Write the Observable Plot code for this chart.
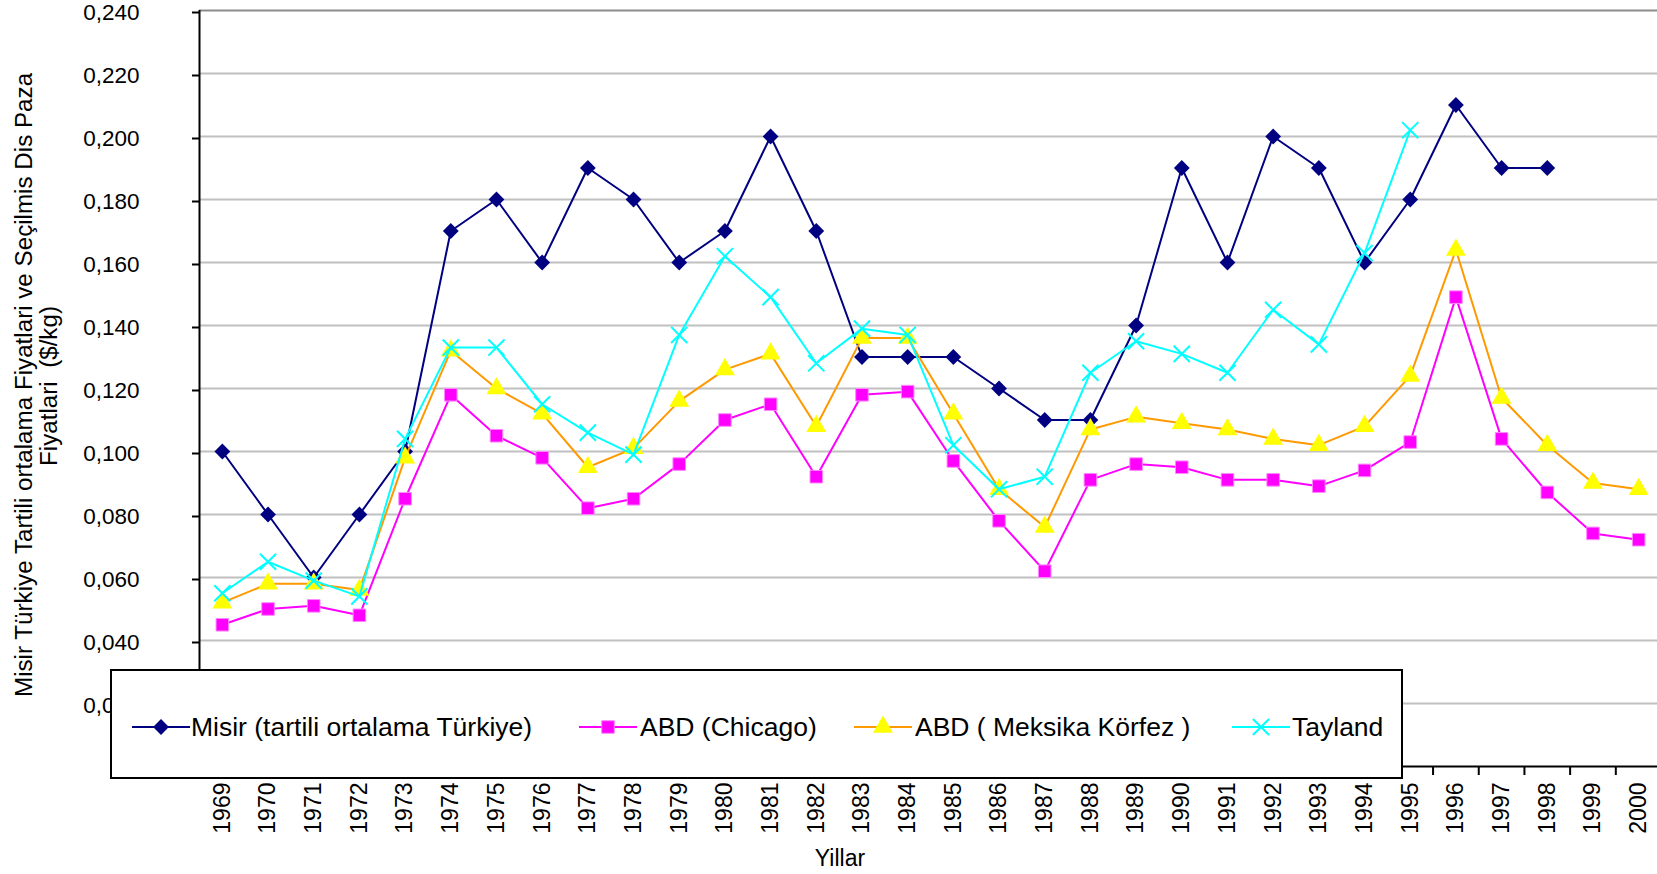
<!DOCTYPE html>
<html>
<head>
<meta charset="utf-8">
<script src="https://cdn.jsdelivr.net/npm/d3@7"></script>
<script src="https://cdn.jsdelivr.net/npm/@observablehq/plot@0.6"></script>
<style>
  body { margin: 0; background: #fff; font-family: "Liberation Sans", Arial, sans-serif; }
  #wrap { position: relative; width: 1657px; height: 874px; overflow: hidden; background: #fff; }
  #wrap > svg { position: absolute; left: 0; top: 0; }
  .legend { position: absolute; box-sizing: border-box; border: 2px solid #000; background: #fff; }
  .legend .item-text { position: absolute; font-size: 26.5px; line-height: 30px; white-space: pre; color: #000; }
  .legend svg { position: absolute; }
</style>
</head>
<body>
<div id="wrap"></div>
<script>
// ---------- data ----------
const years = [1969, 1970, 1971, 1972, 1973, 1974, 1975, 1976, 1977, 1978, 1979, 1980, 1981, 1982, 1983, 1984,
               1985, 1986, 1987, 1988, 1989, 1990, 1991, 1992, 1993, 1994, 1995, 1996, 1997, 1998, 1999, 2000];
const misir   = [0.100, 0.080, 0.060, 0.080, 0.100, 0.170, 0.180, 0.160, 0.190, 0.180, 0.160, 0.170, 0.200, 0.170, 0.130, 0.130,
                 0.130, 0.120, 0.110, 0.110, 0.140, 0.190, 0.160, 0.200, 0.190, 0.160, 0.180, 0.210, 0.190, 0.190, null, null];
const chicago = [0.045, 0.050, 0.051, 0.048, 0.085, 0.118, 0.105, 0.098, 0.082, 0.085, 0.096, 0.110, 0.115, 0.092, 0.118, 0.119,
                 0.097, 0.078, 0.062, 0.091, 0.096, 0.095, 0.091, 0.091, 0.089, 0.094, 0.103, 0.149, 0.104, 0.087, 0.074, 0.072];
const meksika = [0.052, 0.058, 0.058, 0.056, 0.098, 0.132, 0.120, 0.112, 0.095, 0.101, 0.116, 0.126, 0.131, 0.108, 0.136, 0.136,
                 0.112, 0.088, 0.076, 0.107, 0.111, 0.109, 0.107, 0.104, 0.102, 0.108, 0.124, 0.164, 0.117, 0.102, 0.090, 0.088];
const tayland = [0.055, 0.065, 0.059, 0.054, 0.104, 0.133, 0.133, 0.115, 0.106, 0.099, 0.137, 0.162, 0.149, 0.128, 0.139, 0.137,
                 0.102, 0.088, 0.092, 0.125, 0.135, 0.131, 0.125, 0.145, 0.134, 0.163, 0.202, null, null, null, null, null];
const seriesNames = ["Misir (tartili ortalama Türkiye)", "ABD (Chicago)", "ABD ( Meksika Körfez )", "Tayland"];
const yTicks = [0, 0.02, 0.04, 0.06, 0.08, 0.10, 0.12, 0.14, 0.16, 0.18, 0.20, 0.22, 0.24];
const yTitle1 = "Misir Türkiye Tartili ortalama Fiyatlari ve Seçilmis Dis Pazar";
const yTitle2 = "Fiyatlari  ($/kg)";
const xTitle = "Yillar";

// ---------- styles ----------
const styles = [
  {line: "#000080", fill: "#000080", stroke: "none", symbol: "diamond2", r: 7.1, sw: 0},
  {line: "#ff00ff", fill: "#ff00ff", stroke: "#ff88ff", symbol: "square", r: 7.1, sw: 1},
  {line: "#ff9900", fill: "#ffff00", stroke: "none", symbol: "triangle", r: 7.4, sw: 0},
  {line: "#00ffff", fill: "none", stroke: "#00ffff", symbol: "times", r: 7.4, sw: 2}
];
const allValues = [misir, chicago, meksika, tayland];
const rowsFor = vals => years.map((y, i) => ({year: y, value: vals[i]})).filter(d => d.value != null);

const fmt = d => d === 0 ? "" : d3.format(".3f")(d).replace(".", ",");
const boundaries = [years[0] - 0.5, ...years.map(y => y + 0.5)];

const seriesMarks = allValues.flatMap((vals, k) => {
  const s = styles[k];
  const rows = rowsFor(vals);
  return [
    Plot.line(rows, {x: "year", y: "value", stroke: s.line, strokeWidth: 2}),
    Plot.dot(rows, {x: "year", y: "value", symbol: () => s.symbol, r: s.r, fill: s.fill,
                    stroke: s.stroke, strokeWidth: s.sw})
  ];
});

const chart = Plot.plot({
  width: 1657,
  height: 874,
  marginLeft: 199,
  marginRight: 0,
  marginTop: 10,
  marginBottom: 108,
  style: {fontFamily: "'Liberation Sans', Arial, sans-serif", fontSize: "23px", color: "#000", background: "transparent", overflow: "visible"},
  x: {domain: [years[0] - 0.5, years[years.length - 1] + 0.5], range: [199, 1661], label: null},
  y: {domain: [0, 0.24], label: null},
  symbol: {type: "identity"},
  marks: [
    Plot.gridY(yTicks.filter(d => d > 0 && d < 0.24), {stroke: "#c0c0c0", strokeOpacity: 1, strokeWidth: 2}),
    Plot.gridY([0.24], {stroke: "#8c8c8c", strokeOpacity: 1, strokeWidth: 2}),
    ...seriesMarks,
    Plot.ruleX([years[0] - 0.5], {stroke: "#000", strokeWidth: 2}),
    Plot.ruleY([0], {stroke: "#000", strokeWidth: 2}),
    Plot.axisY({ticks: yTicks, tickSize: 7, tickPadding: 53, tickFormat: fmt, fontSize: 22.5, strokeWidth: 2, label: null, dy: 2}),
    Plot.axisX({ticks: boundaries, tickSize: 9, tickFormat: () => "", strokeWidth: 2, label: null}),
    Plot.text(years, {x: d => d, frameAnchor: "bottom", dy: 16, rotate: -90, textAnchor: "end",
                      lineAnchor: "middle", text: d => String(d), fontSize: 23, fill: "#000"})
  ]
});

const wrap = document.getElementById("wrap");
wrap.appendChild(chart);

// ---------- axis titles ----------
const tsvg = d3.create("svg").attr("width", 1657).attr("height", 874);
tsvg.append("defs").append("clipPath").attr("id", "ytclip")
  .append("rect").attr("x", 0).attr("y", 73).attr("width", 80).attr("height", 801);
const fontFam = "'Liberation Sans', Arial, sans-serif";
const tg = tsvg.append("g").attr("clip-path", "url(#ytclip)")
  .style("font-family", fontFam).style("font-size", "24.2px");
tg.append("text").attr("transform", "translate(32,697) rotate(-90)").attr("text-anchor", "start")
  .attr("fill", "#000").text(yTitle1);
tg.append("text").attr("transform", "translate(57,386) rotate(-90)").attr("text-anchor", "middle")
  .attr("fill", "#000").style("white-space", "pre").attr("xml:space", "preserve").text(yTitle2);
tsvg.append("text").attr("x", 840).attr("y", 866).attr("text-anchor", "middle")
  .style("font-family", fontFam).style("font-size", "23px").attr("fill", "#000").text(xTitle);
wrap.appendChild(tsvg.node());

// ---------- legend ----------
const legend = document.createElement("div");
legend.className = "legend";
Object.assign(legend.style, {left: "110px", top: "669px", width: "1293px", height: "110px"});
wrap.appendChild(legend);
const itemLayout = [{lx: 22, tx: 81}, {lx: 469, tx: 530}, {lx: 744, tx: 805}, {lx: 1122, tx: 1182}];
const symMap = {diamond2: d3.symbolDiamond2, square: d3.symbolSquare, triangle: d3.symbolTriangle, times: d3.symbolTimes};
seriesNames.forEach((name, k) => {
  const s = styles[k];
  const L = itemLayout[k];
  const sv = d3.create("svg").attr("width", 60).attr("height", 24)
    .style("left", (L.lx - 2) + "px").style("top", (58 - 2 - 12) + "px");
  sv.append("line").attr("x1", 0).attr("x2", 58).attr("y1", 12).attr("y2", 12)
    .attr("stroke", s.line).attr("stroke-width", 2);
  sv.append("path").attr("transform", "translate(29,12)")
    .attr("d", d3.symbol(symMap[s.symbol], s.r * s.r * Math.PI)())
    .attr("fill", s.fill).attr("stroke", s.stroke).attr("stroke-width", s.sw || null);
  legend.appendChild(sv.node());
  const t = document.createElement("div");
  t.className = "item-text";
  t.textContent = name;
  t.style.left = (L.tx - 2) + "px";
  t.style.top = (58 - 2 - 15) + "px";
  legend.appendChild(t);
});
</script>
</body>
</html>
